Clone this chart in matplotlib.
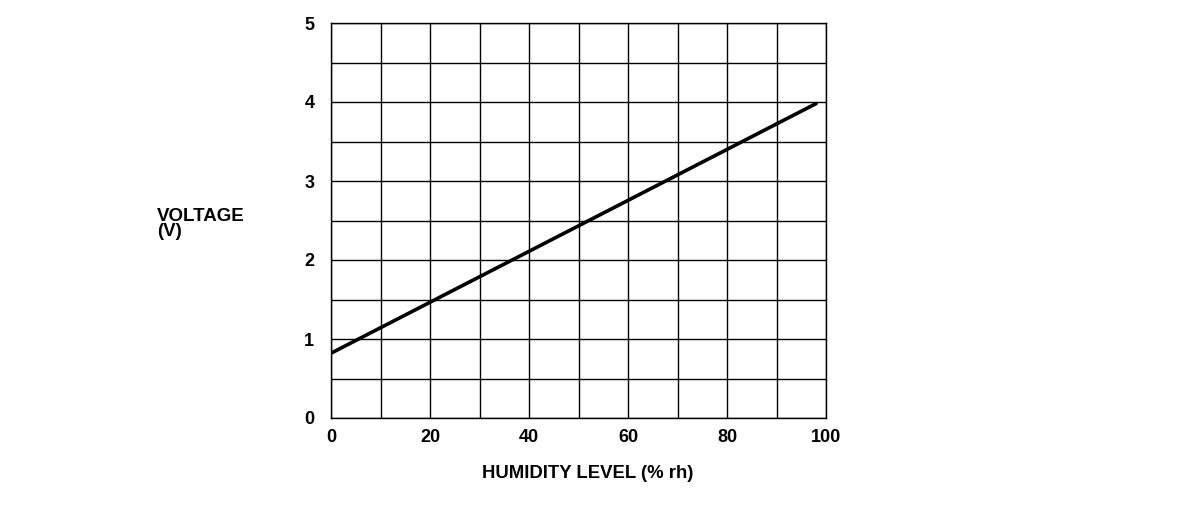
import matplotlib.pyplot as plt
import numpy as np

# values
humidity = [0, 98]          # % rh
voltage = [0.82, 3.98]      # V

x_ticks = [0, 20, 40, 60, 80, 100]
y_ticks = [0, 1, 2, 3, 4, 5]

plt.rcParams['font.family'] = ['Liberation Sans', 'DejaVu Sans']
plt.rcParams['font.weight'] = 'bold'

fig = plt.figure(figsize=(11.84, 5.12), dpi=100)
ax = fig.add_axes([331/1184, 1 - 418/512, (826 - 331)/1184, (418 - 23)/512])

ax.plot(humidity, voltage, color='black', lw=2.6, solid_capstyle='round')

ax.set_xlim(0, 100)
ax.set_ylim(0, 5)
ax.set_xticks(np.arange(0, 101, 10))
ax.set_yticks(np.arange(0, 5.01, 0.5))
ax.set_xticklabels([str(v) if v in x_ticks else '' for v in range(0, 101, 10)])
ax.set_yticklabels([str(int(v)) if v in y_ticks else '' for v in np.arange(0, 5.01, 0.5)])
ax.grid(True, color='black', lw=1.0)
ax.tick_params(length=0, labelsize=13)
ax.tick_params(axis='x', pad=8)
ax.tick_params(axis='y', pad=12)
for s in ax.spines.values():
    s.set_linewidth(1.0)

fig.text(157/1184, 1 - 224/512, "VOLTAGE\n(V)", ha='left', va='center',
         fontsize=13.5, fontweight='bold', linespacing=0.8)
fig.text(588/1184, 1 - 474/512, "HUMIDITY LEVEL (% rh)", ha='center', va='center',
         fontsize=13.3, fontweight='bold')

fig.savefig('out.png', dpi=100)
